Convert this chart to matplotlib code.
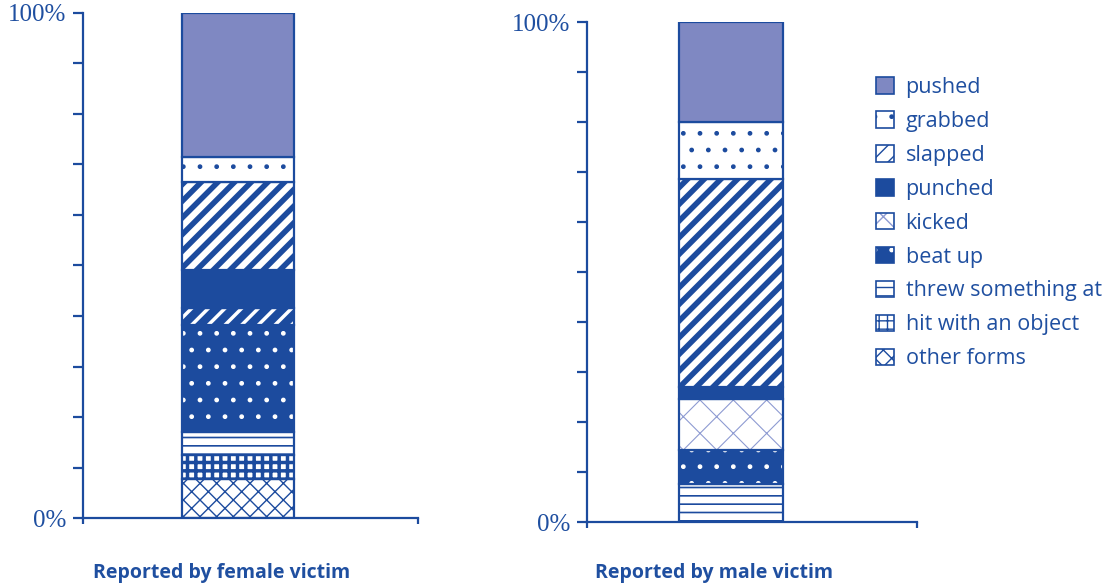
import matplotlib.pyplot as plt
from matplotlib.patches import Patch

BLUE = "#1c4b9e"
TEXT = "#1f4fa0"
PUSH = "#7f88c2"
LIGHT = "#8e9bd2"

categories = ["pushed", "grabbed", "slapped", "punched", "kicked",
              "beat up", "threw something at", "hit with an object", "other forms"]
female = [28.5, 5.0, 17.4, 7.5, 3.4, 21.2, 4.6, 4.6, 7.8]
male = [20.0, 11.4, 41.6, 2.4, 10.2, 6.8, 7.6, 0.0, 0.0]
titles = ["Reported by female victim", "Reported by male victim"]

# face, hatch, hatch colour, hatch linewidth
styles = {
    "pushed": (PUSH, None, BLUE, 1.0),
    "grabbed": ("white", ".", BLUE, 1.0),
    "slapped": ("white", "//", BLUE, 4.0),
    "punched": (BLUE, None, BLUE, 1.0),
    "kicked": ("white", "x", LIGHT, 0.8),
    "beat up": (BLUE, ".", "white", 1.0),
    "threw something at": ("white", "--", BLUE, 1.2),
    "hit with an object": ("white", "++", BLUE, 2.5),
    "other forms": ("white", "xx", BLUE, 1.0),
}
female_override = {"kicked": (BLUE, "//", "white", 2.5)}


def draw_bar(ax, values, xc, width, override):
    bottom = 0.0
    # stack from the last category (bottom) up to the first (top)
    for cat, v in reversed(list(zip(categories, values))):
        if v <= 0:
            continue
        face, hatch, hcol, hlw = override.get(cat, styles[cat])
        with plt.rc_context({"hatch.linewidth": hlw}):
            bars = ax.bar(xc, v, width, bottom=bottom, color=face,
                          edgecolor=hcol, hatch=hatch, linewidth=0)
        for b in bars:
            if hasattr(b, "set_hatch_linewidth"):
                b.set_hatch_linewidth(hlw)
        ax.bar(xc, v, width, bottom=bottom, fill=False,
               edgecolor=BLUE, linewidth=1.6)
        bottom += v


fig = plt.figure(figsize=(11.16, 5.88), dpi=100)
positions = [[0.0744, 0.119, 0.300, 0.859], [0.526, 0.112, 0.296, 0.850]]
bar_x = [(0.463, 0.334), (0.436, 0.315)]
title_x = [222 / 1116, 714 / 1116]

for i, data in enumerate([female, male]):
    ax = fig.add_axes(positions[i])
    draw_bar(ax, data, bar_x[i][0], bar_x[i][1],
             female_override if i == 0 else {})
    ax.set_xlim(0, 1)
    ax.set_ylim(0, 100)
    ax.spines["top"].set_visible(False)
    ax.spines["right"].set_visible(False)
    for s in ["left", "bottom"]:
        ax.spines[s].set_color(BLUE)
        ax.spines[s].set_linewidth(1.6)
    ax.set_yticks(range(0, 101, 10))
    ax.set_yticklabels(["0%"] + [""] * 9 + ["100%"],
                       fontfamily="Liberation Serif", fontsize=18, color=TEXT)
    ax.tick_params(axis="y", length=7, width=1.6, color=BLUE, pad=5)
    ax.set_xticks([0, 1])
    ax.set_xticklabels(["", ""])
    ax.tick_params(axis="x", length=4, width=1.6, color=BLUE)
    fig.text(title_x[i], 1 - 573 / 588, titles[i], ha="center", va="center",
             fontfamily="Open Sans", fontweight="bold", fontsize=14,
             color=TEXT)

handles = []
for cat in categories:
    face, hatch, hcol, hlw = styles[cat]
    p1 = Patch(facecolor=face, edgecolor=hcol, hatch=hatch, linewidth=0)
    p2 = Patch(fill=False, edgecolor=BLUE, linewidth=1.2)
    handles.append((p1, p2))

leg = fig.legend(handles, categories, loc="upper left",
                 bbox_to_anchor=(0.768, 0.902), frameon=False,
                 prop={"family": "Open Sans", "size": 15.5},
                 handlelength=0.8, handleheight=0.8, handletextpad=0.55,
                 labelspacing=0.6)
for t in leg.get_texts():
    t.set_color(TEXT)

fig.savefig("out.png", dpi=100)
